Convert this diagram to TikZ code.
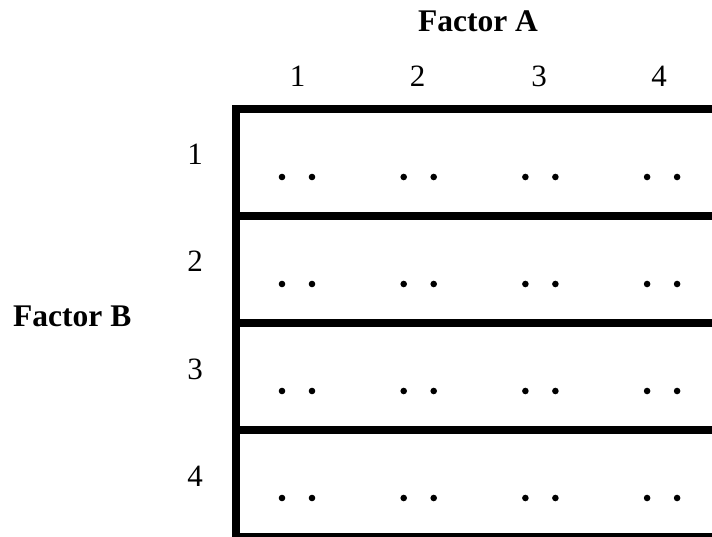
\documentclass[tikz,border=0pt]{standalone}
\usepackage{fontspec}
\setmainfont{Liberation Serif}
\begin{document}
\begin{tikzpicture}[x=1pt,y=1pt,
  lab/.style={inner sep=0pt,font=\fontsize{31}{36}\selectfont},
  blab/.style={inner sep=0pt,font=\fontsize{31.5}{36}\selectfont\bfseries},
  grid/.style={line width=8pt,line cap=rect},
  dot/.style={fill=black}]
\useasboundingbox (0,0) rectangle (712,536);
\clip (0,0) rectangle (712,536);
% frame
\draw[grid] (236,{536-537}) -- (236,{536-109});
\foreach \yy in {109,216,323,430,537}
  \draw[grid] (236,{536-\yy}) -- (720,{536-\yy});
% dots
\foreach \j in {0,1,2,3}
  \foreach \i in {0,1,2,3}{
    \fill[dot] ({297+121.7*\i-15},{536-177-107*\j}) circle (3.3);
    \fill[dot] ({297+121.7*\i+15},{536-177-107*\j}) circle (3.3);
  }
% labels
\node[blab,anchor=base] (fa) at (478,{536-32}) {Factor A};
\node[blab,anchor=base west] (fb) at (13,{536-327}) {Factor B};
\node[lab,anchor=base] (c1) at (297.5,{536-87}) {1};
\node[lab,anchor=base] (c2) at (417.5,{536-87}) {2};
\node[lab,anchor=base] (c3) at (539,{536-87}) {3};
\node[lab,anchor=base] (c4) at (659,{536-87}) {4};
\node[lab,anchor=base] (r1) at (195,{536-165}) {1};
\node[lab,anchor=base] (r2) at (195,{536-272}) {2};
\node[lab,anchor=base] (r3) at (195,{536-379}) {3};
\node[lab,anchor=base] (r4) at (195,{536-486}) {4};
\end{tikzpicture}
\end{document}
